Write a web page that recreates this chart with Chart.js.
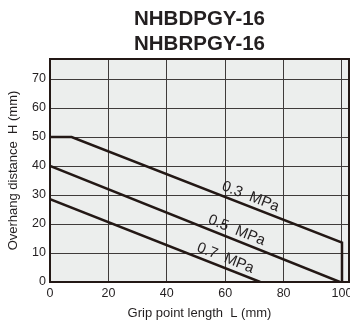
<!DOCTYPE html>
<html>
<head>
<meta charset="utf-8">
<script src="https://cdn.jsdelivr.net/npm/chart.js@4.4.1/dist/chart.umd.min.js"></script>
<style>
  html, body { margin: 0; padding: 0; background: #fff; }
  #wrap { width: 350px; height: 326px; }
</style>
</head>
<body>
<div id="wrap"><canvas id="chart" width="350" height="326"></canvas></div>
<script>
// chart data
const titleLines = ['NHBDPGY-16', 'NHBRPGY-16'];
const pressures = ['0.3  MPa', '0.5  MPa', '0.7  MPa'];
const gripLen03 = [0, 7.4, 100, 100];
const overhang03 = [50, 50, 13.6, 0];
const gripLen05 = [0, 99.3];
const overhang05 = [40, 0];
const gripLen07 = [0, 72];
const overhang07 = [28.6, 0];
const xTicks = [0, 20, 40, 60, 80, 100];
const yTicks = [0, 10, 20, 30, 40, 50, 60, 70];

const ink = '#231815';
const textCol = '#231f20';

const toPoints = (xs, ys) => xs.map((x, i) => ({ x: x, y: ys[i] }));

window.onload = () => {
    const ctx = document.getElementById('chart');

    //plot background, frame, title and curve labels
    const decor = {
        id: 'decor',
        beforeDraw(chart) {
            const { ctx, chartArea: a } = chart;
            ctx.save();
            ctx.fillStyle = '#eceeed';
            ctx.fillRect(a.left, a.top, a.right - a.left, a.bottom - a.top);
            ctx.restore();
        },
        afterDraw(chart, args, opts) {
            const { ctx, chartArea: a } = chart;
            const xs = chart.scales.x, ys = chart.scales.y;
            ctx.save();
            ctx.strokeStyle = ink;
            ctx.lineWidth = 2;
            ctx.strokeRect(a.left, a.top, a.right - a.left, a.bottom - a.top);

            // title
            ctx.fillStyle = textCol;
            ctx.font = 'bold 20.5px "Liberation Sans", Arial, sans-serif';
            ctx.textAlign = 'center';
            ctx.textBaseline = 'alphabetic';
            const cx = (a.left + a.right) / 2;
            titleLines.forEach((t, i) => ctx.fillText(t, cx, 25 + i * 25));

            // labels along the lines
            ctx.font = '15px "Liberation Sans", Arial, sans-serif';
            ctx.textBaseline = 'middle';
            chart.data.datasets.forEach((ds, i) => {
                const L = opts.at[i];
                const pts = ds.data;
                let k = 0;
                while (k < pts.length - 2 && pts[k + 1].x < L) k++;
                const p0 = pts[k], p1 = pts[k + 1];
                const H = p0.y + (p1.y - p0.y) * (L - p0.x) / (p1.x - p0.x);
                const px0 = xs.getPixelForValue(p0.x), py0 = ys.getPixelForValue(p0.y);
                const px1 = xs.getPixelForValue(p1.x), py1 = ys.getPixelForValue(p1.y);
                const ang = Math.atan2(py1 - py0, px1 - px0);
                const px = xs.getPixelForValue(L), py = ys.getPixelForValue(H);
                const off = opts.offset;
                ctx.save();
                ctx.translate(px + Math.sin(ang) * off, py - Math.cos(ang) * off);
                ctx.rotate(ang);
                ctx.fillText(ds.label, 0, 0);
                ctx.restore();
            });
            ctx.restore();
        }
    };

    const mkSet = (label, xs, ys) => ({
        label: label,
        data: toPoints(xs, ys),
        borderColor: ink,
        borderWidth: 2.5,
        pointRadius: 0,
        tension: 0,
        fill: false
    });

    const data = {
        datasets: [
            mkSet(pressures[0], gripLen03, overhang03),
            mkSet(pressures[1], gripLen05, overhang05),
            mkSet(pressures[2], gripLen07, overhang07)
        ]
    };

    const tickFont = { family: '"Liberation Sans", Arial, sans-serif', size: 12.5 };
    const titleFont = { family: '"Liberation Sans", Arial, sans-serif', size: 13 };

    const config = {
        type: 'line',
        data: data,
        plugins: [decor],
        options: {
            responsive: false,
            animation: false,
            layout: { padding: { top: 59, right: 1, left: 0, bottom: 0 } },
            plugins: {
                legend: { display: false },
                title: { display: false },
                tooltip: { enabled: false },
                decor: { at: [67.5, 62.7, 58.9], offset: 9.5 }
            },
            scales: {
                x: {
                    type: 'linear',
                    min: 0,
                    max: 102.4,
                    afterBuildTicks: s => { s.ticks = xTicks.map(v => ({ value: v })); },
                    afterFit: s => { s.height = 44; s.paddingLeft = 0; s.paddingRight = 0; },
                    ticks: { color: textCol, font: tickFont, padding: 4, maxRotation: 0, autoSkip: false },
                    grid: { color: '#3f3b3a', lineWidth: 1, drawTicks: false },
                    border: { color: ink, width: 2 },
                    title: {
                        display: true,
                        text: 'Grip point length  L (mm)',
                        color: textCol,
                        font: titleFont,
                        padding: { top: 0, bottom: 5 }
                    }
                },
                y: {
                    type: 'linear',
                    min: 0,
                    max: 76.9,
                    afterBuildTicks: s => { s.ticks = yTicks.map(v => ({ value: v })); },
                    afterFit: s => { s.width = 50; s.paddingTop = 0; s.paddingBottom = 0; },
                    ticks: { color: textCol, font: tickFont, padding: 4 },
                    grid: { color: '#3f3b3a', lineWidth: 1, drawTicks: false },
                    border: { color: ink, width: 2 },
                    title: {
                        display: true,
                        text: 'Overhang distance  H (mm)',
                        color: textCol,
                        font: titleFont,
                        padding: { top: 6, bottom: 0 }
                    }
                }
            }
        }
    };
    new Chart(ctx, config);
};
</script>
</body>
</html>
